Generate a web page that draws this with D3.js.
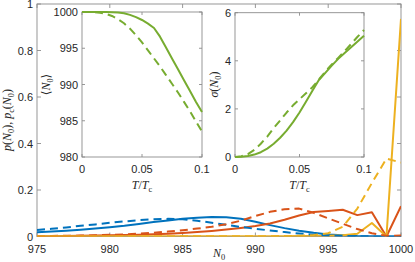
<!DOCTYPE html>
<html>
<head>
<meta charset="utf-8">
<script src="https://cdn.jsdelivr.net/npm/d3@7"></script>
<style>
  body { margin: 0; background: #fff; }
  text { font-family: "Liberation Sans", Arial, Helvetica, sans-serif; }
</style>
</head>
<body>
<svg id="chart" width="415" height="262"></svg>
<script>
// main plot: probability distributions vs N0
const n0 = [975, 976, 977, 978, 979, 980, 981, 982, 983, 984, 985, 986, 987,
  988, 989, 990, 991, 992, 993, 994, 995, 996, 997, 998, 999, 1000];

const blueSolid = [0.018, 0.021, 0.025, 0.029, 0.034, 0.040, 0.046, 0.054, 0.062, 0.069, 0.076, 0.081, 0.084,
  0.083, 0.076, 0.063, 0.049, 0.036, 0.025, 0.016, 0.009, 0.005, 0.002, 0.001, 0, 0];
const blueDashed = [0.028, 0.033, 0.039, 0.046, 0.052, 0.059, 0.065, 0.070, 0.074, 0.076, 0.074, 0.068, 0.059,
  0.050, 0.041, 0.033, 0.026, 0.019, 0.013, 0.008, 0.004, 0.002, 0.001, 0.0005, 0, 0];
const orangeSolid = [0.001, 0.0015, 0.002, 0.003, 0.004, 0.005, 0.006, 0.008, 0.010, 0.012, 0.015, 0.019, 0.024,
  0.030, 0.037, 0.045, 0.056, 0.072, 0.090, 0.105, 0.110, 0.115, 0.092, 0.104, 0, 0.130];
const orangeDashed = [0.002, 0.0025, 0.003, 0.004, 0.005, 0.007, 0.009, 0.012, 0.016, 0.021, 0.027, 0.034, 0.042,
  0.053, 0.068, 0.088, 0.106, 0.117, 0.120, 0.102, 0.078, 0.055, 0.032, 0.014, 0.003, 0.004];
const yellowSolid = [0.001, 0.001, 0.001, 0.001, 0.001, 0.001, 0.001, 0.001, 0.001, 0.001, 0.001, 0.001, 0.001,
  0.001, 0.001, 0.001, 0.001, 0.001, 0.002, 0.002, 0.003, 0.005, 0.012, 0.058, 0, 0.936];
const yellowDashed = [0.001, 0.001, 0.001, 0.001, 0.001, 0.001, 0.001, 0.001, 0.001, 0.001, 0.001, 0.001, 0.001,
  0.001, 0.001, 0.001, 0.001, 0.002, 0.003, 0.006, 0.014, 0.042, 0.120, 0.230, 0.335, 0.318];

const xTicks = [975, 980, 985, 990, 995, 1000];
const yTicks = [0, 0.2, 0.4, 0.6, 0.8, 1];

// insets: vs T/Tc
const tt = [0, 0.005, 0.01, 0.015, 0.02, 0.025, 0.03, 0.035, 0.04, 0.045, 0.05,
  0.055, 0.06, 0.065, 0.07, 0.075, 0.08, 0.085, 0.09, 0.095, 0.1];
const meanSolid = [1000, 1000, 1000, 1000, 1000, 999.98, 999.93, 999.82, 999.6, 999.3, 998.9,
  998.4, 997.8, 996.6, 995.1, 993.6, 992.1, 990.6, 989.1, 987.6, 986.2];
const meanDashed = [1000, 1000, 999.98, 999.9, 999.75, 999.45, 999.0, 998.45, 997.7, 996.8, 995.8,
  994.7, 993.6, 992.5, 991.3, 990.1, 988.9, 987.6, 986.3, 984.9, 983.5];
const sigSolid = [0, 0.01, 0.04, 0.1, 0.2, 0.35, 0.55, 0.8, 1.1, 1.45, 1.85,
  2.3, 2.75, 3.2, 3.5, 3.8, 4.08, 4.32, 4.56, 4.8, 5.04];
const sigDashed = [0, 0.03, 0.12, 0.3, 0.55, 0.85, 1.2, 1.52, 1.85, 2.15, 2.4,
  2.65, 2.9, 3.22, 3.55, 3.85, 4.12, 4.4, 4.7, 5.0, 5.28];

const tTicks = [0, 0.05, 0.1];
const meanTicks = [980, 985, 990, 995, 1000];
const sigTicks = [0, 2, 4, 6];

const blue = "#0072BD", orange = "#D95319", yellow = "#EDB120", green = "#77AC30";
const axisCol = "#8c8c8c", txtCol = "#262626";
const serif = '"Liberation Serif", "DejaVu Serif", serif';

const svg = d3.select("#chart");

// math-like label made of pieces: [text, "i"|"r"|"sub"]
function mathText(g, pieces, size) {
  const t = g.append("text")
    .attr("fill", txtCol)
    .attr("font-size", size)
    .style("font-family", serif)
    .attr("text-anchor", "middle");
  pieces.forEach((p, i) => {
    const s = t.append("tspan").text(p[0]);
    if (p[1] == "i") s.attr("font-style", "italic");
    if (p[1] == "sub") {
      s.attr("font-size", size * 0.7).attr("dy", size * 0.25);
    } else if (i > 0 && pieces[i - 1][1] == "sub") {
      // back to the baseline after a subscript
      s.attr("dy", -size * 0.25);
    }
  });
  return t;
}

// draws a boxed axes with inward ticks on all four sides
function boxAxes(g, x, y, xt, yt, xfmt, yfmt, tl) {
  const [x0, x1] = x.range();
  const [y1, y0] = y.range();
  g.append("rect")
    .attr("x", x0).attr("y", y0)
    .attr("width", x1 - x0).attr("height", y1 - y0)
    .attr("fill", "#fff").attr("stroke", axisCol).attr("stroke-width", 0.9);

  const tk = g.append("g").attr("stroke", axisCol).attr("stroke-width", 0.9);
  xt.forEach(v => {
    tk.append("line").attr("x1", x(v)).attr("x2", x(v)).attr("y1", y1).attr("y2", y1 - tl);
    tk.append("line").attr("x1", x(v)).attr("x2", x(v)).attr("y1", y0).attr("y2", y0 + tl);
  });
  yt.forEach(v => {
    tk.append("line").attr("x1", x0).attr("x2", x0 + tl).attr("y1", y(v)).attr("y2", y(v));
    tk.append("line").attr("x1", x1).attr("x2", x1 - tl).attr("y1", y(v)).attr("y2", y(v));
  });

  g.append("g").selectAll("text")
    .data(xt).join("text")
    .attr("x", d => x(d)).attr("y", y1 + 16)
    .attr("text-anchor", "middle")
    .attr("font-size", 11).attr("fill", txtCol)
    .text(xfmt);
  g.append("g").selectAll("text")
    .data(yt).join("text")
    .attr("x", x0 - 4).attr("y", d => y(d) + 4)
    .attr("text-anchor", "end")
    .attr("font-size", 11).attr("fill", txtCol)
    .text(yfmt);
}

function drawLine(g, xs, ys, x, y, col, dashed) {
  const line = d3.line().x((d, i) => x(xs[i])).y(d => y(d));
  g.append("path")
    .datum(ys)
    .attr("d", line)
    .attr("fill", "none")
    .attr("stroke", col)
    .attr("stroke-width", 2)
    .attr("stroke-linejoin", "round")
    .attr("stroke-dasharray", dashed ? "8,5" : null);
}

// Main axes
const x = d3.scaleLinear().domain([975, 1000]).range([37, 401]);
const y = d3.scaleLinear().domain([0, 1]).range([236.5, 4]);
const main = svg.append("g");
boxAxes(main, x, y, xTicks, yTicks, d => d, d => d, 4);

svg.append("clipPath").attr("id", "clipMain")
  .append("rect").attr("x", 37).attr("y", 4).attr("width", 364).attr("height", 232.5);
const lines = main.append("g").attr("clip-path", "url(#clipMain)");
drawLine(lines, n0, blueSolid, x, y, blue, false);
drawLine(lines, n0, orangeSolid, x, y, orange, false);
drawLine(lines, n0, yellowSolid, x, y, yellow, false);
drawLine(lines, n0, blueDashed, x, y, blue, true);
drawLine(lines, n0, orangeDashed, x, y, orange, true);
drawLine(lines, n0, yellowDashed, x, y, yellow, true);

mathText(main.append("g").attr("transform", "translate(219,257)"),
  [["N", "i"], ["0", "sub"]], 12);
mathText(main.append("g").attr("transform", "translate(11,120) rotate(-90)"),
  [["p", "i"], ["(", "r"], ["N", "i"], ["0", "sub"], ["), ", "r"], ["p", "i"], ["c", "sub"],
   ["(", "r"], ["N", "i"], ["0", "sub"], [")", "r"]], 12);

// Inset 1: mean
const tx1 = d3.scaleLinear().domain([0, 0.1]).range([82, 202]);
const my = d3.scaleLinear().domain([980, 1000]).range([157, 12]);
const in1 = svg.append("g");
boxAxes(in1, tx1, my, tTicks, meanTicks, d => d, d => d, 3);
drawLine(in1, tt, meanSolid, tx1, my, green, false);
drawLine(in1, tt, meanDashed, tx1, my, green, true);
mathText(in1.append("g").attr("transform", "translate(142,189)"),
  [["T", "i"], ["/", "r"], ["T", "i"], ["c", "sub"]], 12);
mathText(in1.append("g").attr("transform", "translate(50,84.5) rotate(-90)"),
  [["\u27E8", "r"], ["N", "i"], ["0", "sub"], ["\u27E9", "r"]], 12);

// Inset 2: sigma
const tx2 = d3.scaleLinear().domain([0, 0.1]).range([235, 364]);
const sy = d3.scaleLinear().domain([0, 6]).range([157, 12.7]);
const in2 = svg.append("g");
boxAxes(in2, tx2, sy, tTicks, sigTicks, d => d, d => d, 3);
drawLine(in2, tt, sigSolid, tx2, sy, green, false);
drawLine(in2, tt, sigDashed, tx2, sy, green, true);
mathText(in2.append("g").attr("transform", "translate(299.5,189)"),
  [["T", "i"], ["/", "r"], ["T", "i"], ["c", "sub"]], 12);
mathText(in2.append("g").attr("transform", "translate(218,84.5) rotate(-90)"),
  [["\u03C3", "i"], ["(", "r"], ["N", "i"], ["0", "sub"], [")", "r"]], 12);
</script>
</body>
</html>
